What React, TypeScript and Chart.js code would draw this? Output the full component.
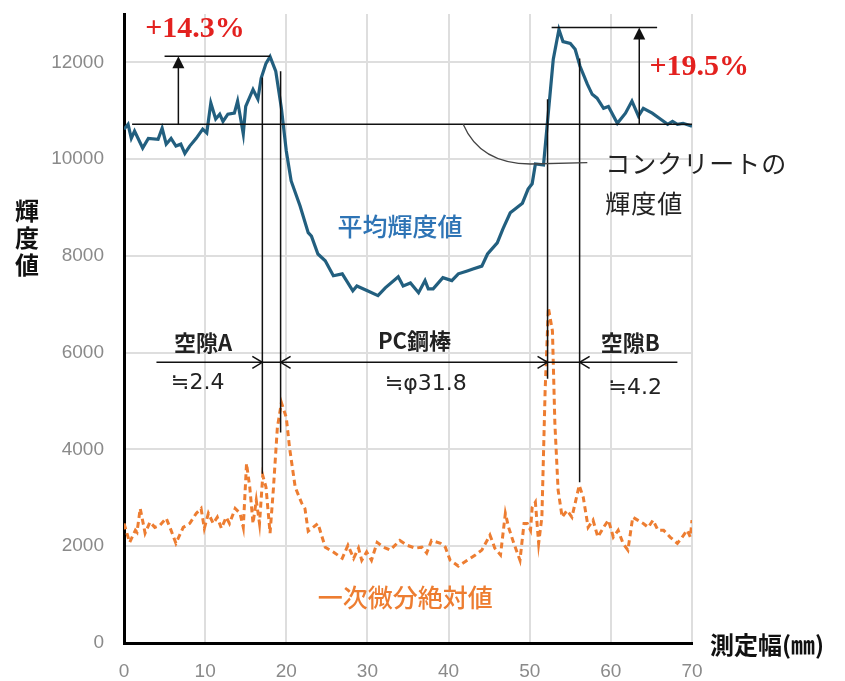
import React, { useEffect, useRef } from "react";
import { Chart, registerables } from "chart.js";

Chart.register(...registerables);

// 平均輝度値 (measurement width in mm, brightness)
const brightnessX = [
  0, 0.5, 0.9, 1.3, 2.3, 3.0, 4.2, 4.7, 5.2, 5.8, 6.4, 7.0, 7.5, 8.1, 8.9, 9.7,
  10.2, 10.7, 11.3, 11.8, 12.2, 12.8, 13.6, 14.0, 14.7, 15.0, 15.9, 16.5, 16.9,
  17.5, 18.0, 18.7, 19.4, 20.0, 20.6, 21.7, 22.7, 23.1, 23.9, 24.8, 25.8, 26.9,
  28.2, 28.7, 30.0, 31.3, 32.2, 33.8, 34.4, 35.3, 36.3, 37.1, 37.5, 38.1, 39.3,
  40.4, 41.2, 42.3, 43.0, 44.1, 44.8, 46.0, 46.7, 47.6, 48.2, 49.1, 49.8, 50.3,
  50.7, 51.7, 52.9, 53.6, 54.1, 55.0, 55.6, 56.2, 57.1, 57.7, 58.3, 59.1, 59.7,
  60.8, 61.8, 62.6, 63.4, 64.0, 65.1, 66.1, 67.0, 67.6, 68.2, 68.9, 70.0,
];
const brightnessY = [
  10620, 10720, 10430, 10580, 10230, 10430, 10410, 10640, 10310, 10430, 10270,
  10310, 10120, 10270, 10430, 10620, 10540, 11160, 10830, 10930, 10780, 10930,
  10950, 11200, 10520, 11090, 11440, 11240, 11670, 11980, 12120, 11820, 11050,
  10170, 9550, 9030, 8480, 8410, 8040, 7900, 7590, 7630, 7280, 7380, 7280, 7180,
  7340, 7570, 7380, 7440, 7240, 7490, 7320, 7320, 7550, 7490, 7630, 7690, 7730,
  7790, 8040, 8270, 8560, 8890, 8970, 9090, 9380, 9490, 9900, 9880, 12060, 12680,
  12430, 12390, 12270, 11920, 11550, 11340, 11260, 11050, 11090, 10740, 10950,
  11200, 10890, 11050, 10950, 10830, 10720, 10780, 10720, 10740, 10680,
];

// 一次微分絶対値 (measurement width in mm, absolute first derivative)
const derivativeX = [
  0, 0.7, 1.4, 1.6, 2.0, 2.6, 3.2, 3.8, 4.4, 5.2, 5.8, 6.4, 7.3, 8.1, 8.9, 9.5,
  9.9, 10.4, 11.0, 11.5, 12.0, 12.6, 13.0, 13.7, 14.3, 14.7, 15.1, 15.5, 15.9,
  16.3, 16.7, 17.1, 17.5, 18.0, 18.4, 18.9, 19.4, 20.0, 20.4, 21.1, 21.9, 22.3,
  22.7, 23.3, 23.9, 24.8, 25.8, 26.9, 27.6, 28.3, 28.9, 29.3, 29.9, 30.5, 31.2,
  32.0, 32.8, 34.0, 34.9, 35.9, 36.7, 37.3, 37.9, 39.0, 39.6, 40.2, 41.2, 42.3,
  43.3, 44.1, 45.1, 45.7, 46.4, 47.0, 47.4, 48.0, 48.8, 49.3, 49.7, 50.1, 50.3,
  50.7, 51.1, 51.5, 51.9, 52.3, 52.8, 53.1, 53.5, 54.0, 54.6, 55.2, 55.6, 56.1,
  56.6, 57.2, 57.8, 58.4, 59.1, 59.7, 60.3, 60.9, 61.5, 62.1, 62.7, 63.3, 64.0,
  64.6, 65.2, 65.8, 66.5, 67.3, 68.2, 68.8, 69.4, 69.8, 70.0,
];
const derivativeY = [
  2470, 2080, 2330, 2290, 2780, 2270, 2500, 2390, 2430, 2580, 2330, 2060, 2390,
  2470, 2680, 2780, 2370, 2680, 2470, 2600, 2370, 2600, 2470, 2780, 2680, 2390,
  3710, 3220, 2470, 2950, 2470, 3460, 3220, 2270, 3160, 4450, 4970, 4660, 4040,
  3220, 2890, 2780, 2310, 2390, 2470, 1980, 1880, 1750, 2020, 1750, 1960, 1710,
  1880, 1710, 2080, 1980, 1920, 2120, 2020, 1960, 1980, 1860, 2120, 2060, 1980,
  1710, 1590, 1710, 1820, 1920, 2230, 1960, 1820, 2680, 2390, 2080, 1710, 2470,
  2470, 2330, 2800, 2910, 2060, 2600, 5220, 6930, 6450, 4540, 3160, 2600, 2740,
  2600, 2890, 3260, 3010, 2390, 2540, 2190, 2390, 2540, 2190, 2330, 2060, 1920,
  2600, 2540, 2470, 2390, 2540, 2330, 2330, 2190, 2060, 2190, 2330, 2190, 2540,
];

// Axis ticks
const xTickValues = [0, 10, 20, 30, 40, 50, 60, 70];
const yTickValues = [0, 2000, 4000, 6000, 8000, 10000, 12000];
const yMax = 13000;

// Reference levels and boundaries (mm / brightness)
const concreteLevel = 10720;
const peakA = 12125;
const peakB = 12720;
const boundaryX = [17.05, 19.3, 52.2, 56.15];
const boundaryTop = [11690, 11815, 11240, 12080];
const boundaryBottom = [3500, 4350, 5460, 3320];
const dimensionLevel = 5800;
const dimensionStart = 4.0;
const dimensionEnd = 68.2;

const BLUE_LINE = "#225f7f";
const BLUE_TEXT = "#2e74b5";
const ORANGE = "#ed7d31";
const RED = "#e3211f";
const JP = '"Noto Sans CJK JP", "Noto Sans", sans-serif';

const annotationPlugin = {
  id: "annotations",
  afterDatasetsDraw(chart: any) {
    const { ctx, chartArea } = chart;
    const xs = chart.scales.x;
    const ys = chart.scales.y;
    const px = (v: number) => xs.getPixelForValue(v);
    const py = (v: number) => ys.getPixelForValue(v);

    ctx.save();
    ctx.strokeStyle = "#111";
    ctx.fillStyle = "#111";
    ctx.lineWidth = 1.5;

    const line = (x1: number, y1: number, x2: number, y2: number) => {
      ctx.beginPath();
      ctx.moveTo(x1, y1);
      ctx.lineTo(x2, y2);
      ctx.stroke();
    };

    // concrete brightness level
    line(px(1.0), py(concreteLevel), px(70), py(concreteLevel));

    // peak A: level line and rising arrow
    line(px(5.0), py(peakA), px(18.0), py(peakA));
    const ax = px(6.7);
    line(ax, py(concreteLevel), ax, py(peakA) + 10);
    ctx.beginPath();
    ctx.moveTo(ax, py(peakA));
    ctx.lineTo(ax - 6, py(peakA) + 12);
    ctx.lineTo(ax + 6, py(peakA) + 12);
    ctx.closePath();
    ctx.fill();

    // peak B: level line and rising arrow
    line(px(52.7), py(peakB), px(65.7), py(peakB));
    const bx = px(63.5);
    line(bx, py(concreteLevel), bx, py(peakB) + 10);
    ctx.beginPath();
    ctx.moveTo(bx, py(peakB));
    ctx.lineTo(bx - 6, py(peakB) + 12);
    ctx.lineTo(bx + 6, py(peakB) + 12);
    ctx.closePath();
    ctx.fill();

    // boundary verticals
    boundaryX.forEach((bxv, i) => {
      line(px(bxv), py(boundaryTop[i]), px(bxv), py(boundaryBottom[i]));
    });

    // dimension line with chevrons
    const dy = py(dimensionLevel);
    line(px(dimensionStart), dy, px(dimensionEnd), dy);
    const chevron = (x: number, dir: number) => {
      ctx.beginPath();
      ctx.moveTo(x - dir * 10, dy - 6);
      ctx.lineTo(x, dy);
      ctx.lineTo(x - dir * 10, dy + 6);
      ctx.stroke();
    };
    chevron(px(boundaryX[0]), 1);
    chevron(px(boundaryX[1]), -1);
    chevron(px(boundaryX[2]), 1);
    chevron(px(boundaryX[3]), -1);

    // callout curve to the concrete label
    ctx.strokeStyle = "#444";
    ctx.lineWidth = 1.3;
    ctx.beginPath();
    ctx.moveTo(px(41.8), py(concreteLevel));
    ctx.quadraticCurveTo(px(43.9), py(9900), px(50.1), py(9900));
    ctx.lineTo(px(57.1), py(9930));
    ctx.stroke();

    ctx.textBaseline = "middle";

    // percentage labels
    ctx.fillStyle = RED;
    ctx.textAlign = "center";
    ctx.font = 'bold 30px "Liberation Serif", "Times New Roman", serif';
    ctx.fillText("+14.3%", px(8.75), py(12680));
    ctx.fillText("+19.5%", px(70.9), py(11900));

    // series labels
    ctx.font = `500 25px ${JP}`;
    ctx.fillStyle = BLUE_TEXT;
    ctx.fillText("平均輝度値", px(34.0), py(8600));
    ctx.fillStyle = ORANGE;
    ctx.fillText("一次微分絶対値", px(34.65), py(950));

    // concrete label
    ctx.fillStyle = "#222";
    ctx.textAlign = "left";
    ctx.font = `400 25px ${JP}`;
    (ctx as any).letterSpacing = "1px";
    ctx.fillText("コンクリートの", px(59.3), py(9900));
    ctx.fillText("輝度値", px(59.3), py(9090));
    (ctx as any).letterSpacing = "0px";

    // region labels
    ctx.textAlign = "center";
    ctx.fillStyle = "#222";
    ctx.font = `700 22px ${JP}`;
    ctx.fillText("空隙A", px(9.74), py(6207));
    ctx.fillText("PC鋼棒", px(35.8), py(6248));
    ctx.fillText("空隙B", px(62.4), py(6207));
    ctx.font = `400 22px "DejaVu Sans", ${JP}`;
    ctx.fillText("≒2.4", px(9.1), py(5360));
    ctx.fillText("≒φ31.8", px(37.2), py(5340));
    ctx.fillText("≒4.2", px(63.0), py(5260));

    // axis titles
    ctx.fillStyle = "#111";
    ctx.font = `700 24px ${JP}`;
    const yTitle = ["輝", "度", "値"];
    yTitle.forEach((ch, i) => {
      ctx.fillText(ch, chartArea.left - 97, 211 + i * 27);
    });
    ctx.textAlign = "left";
    ctx.fillText("測定幅(㎜)", chartArea.right + 18, chartArea.bottom + 2);

    ctx.restore();
  },
};

export default function App() {
  const canvasRef = useRef<HTMLCanvasElement | null>(null);

  useEffect(() => {
    if (!canvasRef.current) return;
    const chart = new Chart(canvasRef.current, {
      type: "line",
      data: {
        datasets: [
          {
            label: "平均輝度値",
            data: brightnessX.map((x, i) => ({ x, y: brightnessY[i] })),
            borderColor: BLUE_LINE,
            borderWidth: 3.2,
            pointRadius: 0,
            tension: 0,
          },
          {
            label: "一次微分絶対値",
            data: derivativeX.map((x, i) => ({ x, y: derivativeY[i] })),
            borderColor: ORANGE,
            borderWidth: 3,
            borderDash: [6, 4],
            pointRadius: 0,
            tension: 0,
          },
        ],
      },
      options: {
        responsive: false,
        animation: false,
        layout: { padding: { top: 14, right: 153, left: 0, bottom: 0 } },
        plugins: {
          legend: { display: false },
          tooltip: { enabled: false },
        },
        scales: {
          x: {
            type: "linear",
            min: 0,
            max: 70,
            afterBuildTicks: (scale: any) => {
              scale.ticks = xTickValues.map((v) => ({ value: v }));
            },
            afterFit: (scale: any) => {
              scale.height = 38;
              scale.paddingLeft = 0;
              scale.paddingRight = 0;
            },
            grid: { color: "#dedede", lineWidth: 2, drawTicks: false },
            border: { color: "#000", width: 3 },
            ticks: {
              color: "#8a8a8a",
              font: { family: "Liberation Sans, Arial, sans-serif", size: 19 },
              padding: 17,
              maxRotation: 0,
              callback: (v: any) => String(v),
            },
          },
          y: {
            min: 0,
            max: yMax,
            afterBuildTicks: (scale: any) => {
              scale.ticks = yTickValues.map((v) => ({ value: v }));
            },
            afterFit: (scale: any) => {
              scale.width = 124;
              scale.paddingTop = 0;
              scale.paddingBottom = 0;
            },
            grid: { color: "#dedede", lineWidth: 2, drawTicks: false },
            border: { color: "#000", width: 3 },
            ticks: {
              color: "#8a8a8a",
              font: { family: "Liberation Sans, Arial, sans-serif", size: 19 },
              padding: 20,
              callback: (v: any) => String(v),
            },
          },
        },
      },
      plugins: [annotationPlugin],
    });
    return () => chart.destroy();
  }, []);

  return (
    <div style={{ position: "fixed", left: 0, top: 0, width: 845, height: 681, background: "#fff" }}>
      <canvas ref={canvasRef} width={845} height={681} />
    </div>
  );
}
